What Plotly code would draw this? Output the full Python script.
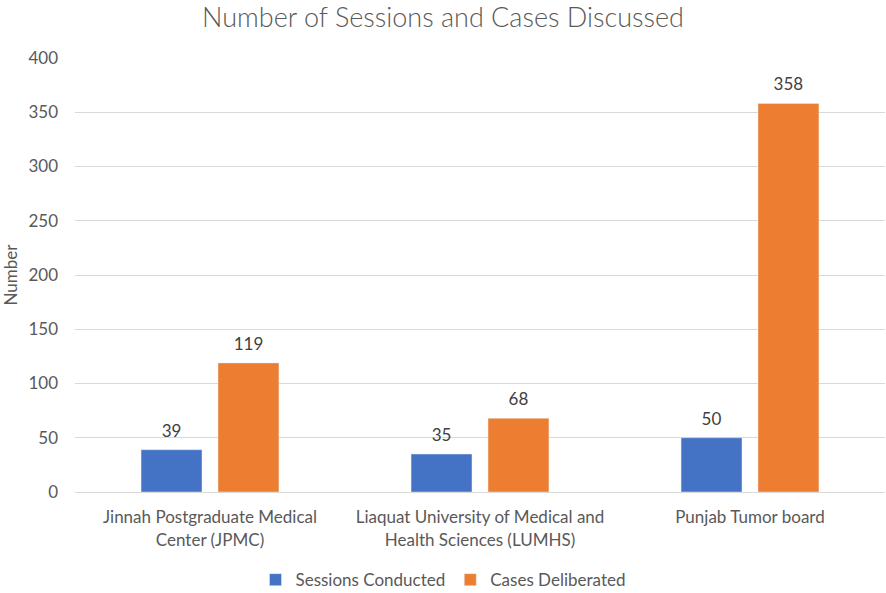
import plotly.graph_objects as go

categories = ["Jinnah Postgraduate Medical<br>Center (JPMC)",
              "Liaquat University of Medical and<br>Health Sciences (LUMHS)",
              "Punjab Tumor board"]
sessions = [39, 35, 50]
cases = [119, 68, 358]

font = "Lato, Open Sans, sans-serif"
# small second line lifts the label a few pixels off the bar top
label_tmpl = "<span style='font-size:17px'>%{y}</span><br> "

fig = go.Figure()
fig.add_trace(go.Bar(x=categories, y=sessions, name="Sessions Conducted",
                     marker_color="#4472C4", texttemplate=label_tmpl, textposition="outside",
                     textfont=dict(size=7, color="#404040"), cliponaxis=False))
fig.add_trace(go.Bar(x=categories, y=cases, name="Cases Deliberated",
                     marker_color="#ED7D31", texttemplate=label_tmpl, textposition="outside",
                     textfont=dict(size=7, color="#404040"), cliponaxis=False))

fig.update_layout(
    width=886, height=593,
    margin=dict(l=75, r=1, t=58, b=101, autoexpand=False),
    paper_bgcolor="white", plot_bgcolor="white",
    font=dict(family=font, size=17, color="#595959"),
    title=dict(text="Number of Sessions and Cases Discussed", x=0.5, xanchor="center",
               y=0.971, yanchor="middle",
               font=dict(size=27, color="#595959", weight=300)),
    barmode="group", bargap=0.43, bargroupgap=0.208,
    legend=dict(orientation="h", xref="container", x=0.5, xanchor="center",
                y=-0.203, yanchor="middle",
                font=dict(size=17, color="#595959"), itemwidth=30),
    yaxis=dict(range=[0, 400], dtick=50, gridcolor="#D9D9D9", zeroline=False,
               showline=False, ticks="", ticklen=0, automargin=False,
               tickfont=dict(size=17), ticklabelstandoff=16,
               title=dict(text="Number", standoff=6, font=dict(size=17, color="#595959"))),
    xaxis=dict(showline=True, linecolor="#D9D9D9", ticks="", automargin=False,
               tickfont=dict(size=17), ticklabelstandoff=10),
)

# drop the default page margin so the figure fills the window
fig.write_html("out.html", config={"displayModeBar": False},
               post_script="document.body.style.margin = '0';")
